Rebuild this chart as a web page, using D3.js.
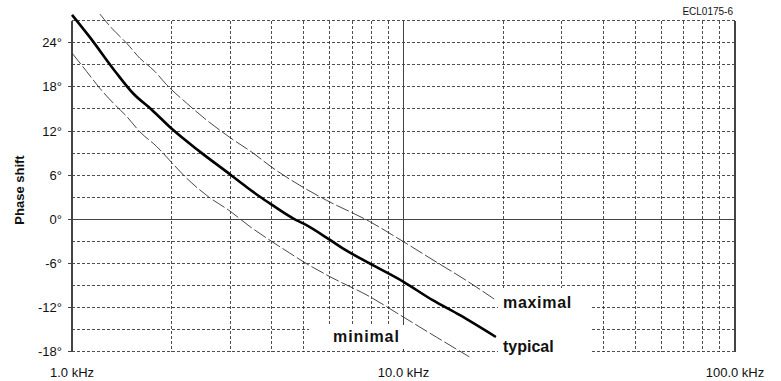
<!DOCTYPE html>
<html>
<head>
<meta charset="utf-8">
<script src="https://cdn.jsdelivr.net/npm/d3@7"></script>
<style>
  html, body { margin: 0; padding: 0; background: #fff; }
  svg { display: block; }
  text { font-family: "Liberation Sans", Arial, sans-serif; }
</style>
</head>
<body>
<svg id="chart" width="781" height="381"></svg>
<script>
// ---- data (frequency in kHz, phase shift in degrees) ----
const typicalFreq  = [1.0, 1.13, 1.35, 1.53, 1.74, 2.0, 2.43, 3.0, 3.36, 3.68, 4.0, 4.7, 5.0, 6.0, 6.56, 7.9, 10.0, 12.25, 14.75, 19.0];
const typicalPhase = [27.8, 24.8, 20.1, 17.1, 14.9, 12.3, 9.2, 6.1, 4.4, 3.1, 2.0, 0.0, -0.6, -2.8, -3.95, -6.0, -8.5, -11.0, -13.0, -16.0];

const minimalFreq  = [1.0, 1.107, 1.214, 1.332, 1.461, 1.602, 1.8, 2.0, 2.216, 2.574, 3.0, 3.42, 4.0, 4.54, 5.0, 6.0, 7.9, 10.0, 12.55, 15.8];
const minimalPhase = [22.6, 20.1, 17.8, 15.8, 14.0, 11.9, 9.9, 7.7, 5.6, 3.1, 1.1, -0.9, -3.0, -4.6, -5.8, -7.8, -10.5, -13.3, -16.0, -18.7];

const maximalFreq  = [1.214, 1.317, 1.461, 1.602, 1.778, 1.929, 2.216, 2.545, 3.0, 3.52, 4.0, 5.0, 5.85, 7.9, 10.0, 12.55, 15.45, 19.0];
const maximalPhase = [27.9, 26.0, 23.95, 21.9, 20.1, 18.3, 15.8, 13.5, 11.1, 9.0, 7.1, 4.3, 2.6, -0.3, -3.05, -5.8, -8.3, -11.0];

const yTickValues  = [24, 18, 12, 6, 0, -6, -12, -18];
const yTickLabels  = ["24°", "18°", "12°", "6°", "0°", "-6°", "-12°", "-18°"];
const yGridValues  = [27, 24, 21, 18, 15, 12, 9, 6, 3, -3, -6, -9, -12, -15, -18];
const xMajorValues = [1, 10, 100];
const xMajorLabels = ["1.0 kHz", "10.0 kHz", "100.0 kHz"];
const xMinorValues = [2, 3, 4, 5, 6, 7, 8, 9, 20, 30, 40, 50, 60, 70, 80, 90];
const seriesLabels = ["maximal", "typical", "minimal"];
const yAxisTitle   = "Phase shift";
const figureCode   = "ECL0175-6";

// ---- layout ----
const svg = d3.select("#chart");
const x = d3.scaleLog().domain([1, 100]).range([72, 735]);
const y = d3.scaleLinear().domain([-18, 27]).range([351.7, 20.7]);

const gridColor = "#222";
const dash = "3,2";

// horizontal dashed grid
svg.append("g").selectAll("line").data(yGridValues).join("line")
  .attr("x1", x(1)).attr("x2", x(100))
  .attr("y1", d => y(d)).attr("y2", d => y(d))
  .attr("stroke", gridColor).attr("stroke-width", 0.8)
  .attr("stroke-dasharray", dash).attr("shape-rendering", "crispEdges");

// vertical dashed grid
svg.append("g").selectAll("line").data(xMinorValues).join("line")
  .attr("x1", d => x(d)).attr("x2", d => x(d))
  .attr("y1", y(27)).attr("y2", y(-18))
  .attr("stroke", gridColor).attr("stroke-width", 0.8)
  .attr("stroke-dasharray", dash).attr("shape-rendering", "crispEdges");

// solid lines: left axis, right frame, 10 kHz, 0°
const solid = svg.append("g").attr("stroke", "#444").attr("shape-rendering", "crispEdges");
solid.append("line").attr("x1", x(1)).attr("x2", x(1)).attr("y1", y(27)).attr("y2", y(-18)).attr("stroke-width", 1.2);
solid.append("line").attr("x1", x(100)).attr("x2", x(100)).attr("y1", y(27)).attr("y2", y(-18)).attr("stroke-width", 1.2);
solid.append("line").attr("x1", x(10)).attr("x2", x(10)).attr("y1", y(27)).attr("y2", y(-18)).attr("stroke-width", 1.2);
solid.append("line").attr("x1", x(1)).attr("x2", x(100)).attr("y1", y(0)).attr("y2", y(0)).attr("stroke-width", 1.2);

// left ticks
svg.append("g").selectAll("line").data(yTickValues).join("line")
  .attr("x1", x(1) - 4).attr("x2", x(1))
  .attr("y1", d => y(d)).attr("y2", d => y(d))
  .attr("stroke", "#444").attr("shape-rendering", "crispEdges");

// white label boxes (cover grid)
svg.append("rect").attr("x", 309).attr("y", 325).attr("width", 191).attr("height", 24).attr("fill", "#fff");
svg.append("rect").attr("x", 498).attr("y", 288).attr("width", 94).attr("height", 76).attr("fill", "#fff");

// y tick labels
svg.append("g").selectAll("text").data(yTickValues).join("text")
  .attr("x", 62).attr("y", d => y(d) + 4.5)
  .attr("text-anchor", "end").attr("font-size", 13).attr("fill", "#111")
  .text((d, i) => yTickLabels[i]);

// x labels
svg.append("g").selectAll("text").data(xMajorValues).join("text")
  .attr("x", d => x(d)).attr("y", 377)
  .attr("text-anchor", "middle").attr("font-size", 13).attr("fill", "#111")
  .text((d, i) => xMajorLabels[i]);

// axis title
svg.append("text")
  .attr("transform", "translate(24,190) rotate(-90)")
  .attr("text-anchor", "middle").attr("font-size", 13).attr("font-weight", "bold").attr("fill", "#111")
  .text(yAxisTitle);

// figure code
svg.append("text").attr("x", 733).attr("y", 15).attr("text-anchor", "end")
  .attr("font-size", 10).attr("fill", "#111").text(figureCode);

// curves
const line = d3.line().x(d => x(d[0])).y(d => y(d[1])).curve(d3.curveMonotoneX);
const zip = (a, b) => a.map((v, i) => [v, b[i]]);

svg.append("path").datum(zip(maximalFreq, maximalPhase)).attr("d", line)
  .attr("fill", "none").attr("stroke", "#333").attr("stroke-width", 0.9).attr("stroke-dasharray", "14,3");
svg.append("path").datum(zip(minimalFreq, minimalPhase)).attr("d", line)
  .attr("fill", "none").attr("stroke", "#333").attr("stroke-width", 0.9).attr("stroke-dasharray", "14,3");
svg.append("path").datum(zip(typicalFreq, typicalPhase)).attr("d", line)
  .attr("fill", "none").attr("stroke", "#000").attr("stroke-width", 2.6);

// series labels
svg.append("text").attr("x", 503).attr("y", 308).attr("font-size", 16).attr("font-weight", "bold")
  .attr("letter-spacing", 0.7).attr("fill", "#111").text(seriesLabels[0]);
svg.append("text").attr("x", 503).attr("y", 352).attr("font-size", 16).attr("font-weight", "bold")
  .attr("fill", "#111").text(seriesLabels[1]);
svg.append("text").attr("x", 333).attr("y", 342).attr("font-size", 16).attr("font-weight", "bold")
  .attr("letter-spacing", 0.9).attr("fill", "#111").text(seriesLabels[2]);
</script>
</body>
</html>
